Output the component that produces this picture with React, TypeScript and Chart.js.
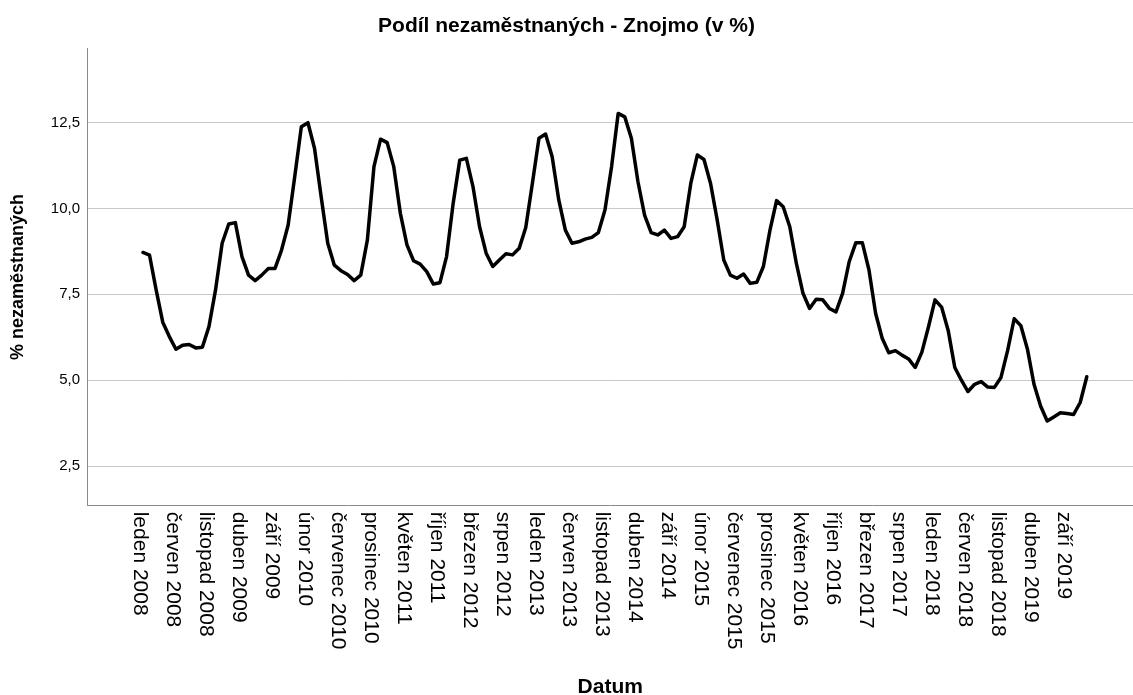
import React, { useEffect, useRef } from "react";
import { Chart, registerables } from "chart.js";

Chart.register(...registerables);

const FONT = '"Liberation Sans", Arial, Helvetica, sans-serif';

const chartTitle = "Podíl nezaměstnaných - Znojmo (v %)";
const xTitle = "Datum";
const yTitle = "% nezaměstnaných";

// Monthly share of unemployed, January 2008 - December 2019
const values2008 = [8.72, 8.64, 7.63, 6.69, 6.27, 5.9, 6.02, 6.04, 5.94, 5.96, 6.56, 7.63];
const values2009 = [8.99, 9.55, 9.59, 8.6, 8.06, 7.9, 8.06, 8.25, 8.25, 8.79, 9.52, 10.93];
const values2010 = [12.38, 12.5, 11.75, 10.34, 8.99, 8.35, 8.19, 8.08, 7.9, 8.06, 9.08, 11.22];
const values2011 = [12.02, 11.92, 11.22, 9.86, 8.94, 8.48, 8.38, 8.16, 7.8, 7.84, 8.6, 10.15];
const values2012 = [11.41, 11.46, 10.64, 9.47, 8.7, 8.31, 8.5, 8.68, 8.65, 8.84, 9.45, 10.73];
const values2013 = [12.05, 12.17, 11.51, 10.25, 9.37, 8.99, 9.03, 9.11, 9.16, 9.3, 9.96, 11.22];
const values2014 = [12.77, 12.67, 12.05, 10.78, 9.81, 9.3, 9.23, 9.37, 9.13, 9.18, 9.47, 10.73];
const values2015 = [11.56, 11.43, 10.73, 9.67, 8.5, 8.06, 7.97, 8.09, 7.82, 7.85, 8.31, 9.37];
const values2016 = [10.23, 10.05, 9.47, 8.4, 7.53, 7.09, 7.36, 7.34, 7.09, 6.99, 7.53, 8.45];
const values2017 = [9.0, 9.0, 8.21, 6.95, 6.22, 5.8, 5.86, 5.73, 5.62, 5.37, 5.81, 6.54];
const values2018 = [7.34, 7.13, 6.45, 5.37, 5.0, 4.67, 4.88, 4.96, 4.8, 4.79, 5.08, 5.86];
const values2019 = [6.79, 6.59, 5.91, 4.88, 4.25, 3.81, 3.93, 4.05, 4.03, 4.0, 4.35, 5.1];

const values = [
  ...values2008, ...values2009, ...values2010, ...values2011,
  ...values2012, ...values2013, ...values2014, ...values2015,
  ...values2016, ...values2017, ...values2018, ...values2019,
];

const tickLabels = [
  "leden 2008", "červen 2008", "listopad 2008", "duben 2009", "září 2009",
  "únor 2010", "červenec 2010", "prosinec 2010", "květen 2011", "říjen 2011",
  "březen 2012", "srpen 2012", "leden 2013", "červen 2013", "listopad 2013",
  "duben 2014", "září 2014", "únor 2015", "červenec 2015", "prosinec 2015",
  "květen 2016", "říjen 2016", "březen 2017", "srpen 2017", "leden 2018",
  "červen 2018", "listopad 2018", "duben 2019", "září 2019",
];
// month index (0 = leden 2008) of each tick label: every 5th month
const tickMonths = tickLabels.map((_, k) => k * 5);

const yTicks = [2.5, 5.0, 7.5, 10.0, 12.5];

export default function App() {
  const ref = useRef<HTMLCanvasElement>(null);

  useEffect(() => {
    const canvas = ref.current;
    if (!canvas) return;

    const rotatedTicks = {
      id: "rotatedTicks",
      afterDraw(chart: any) {
        const xs = chart.scales.x;
        const ctx = chart.ctx as CanvasRenderingContext2D;
        ctx.save();
        ctx.fillStyle = "#000";
        ctx.font = `21px ${FONT}`;
        ctx.textAlign = "left";
        ctx.textBaseline = "middle";
        tickMonths.forEach((m, k) => {
          const px = xs.getPixelForValue(m);
          ctx.save();
          ctx.translate(px - 3.5, xs.top + 6);
          ctx.rotate(Math.PI / 2);
          ctx.fillText(tickLabels[k], 0, 0);
          ctx.restore();
        });
        ctx.restore();
      },
    };

    const chart = new Chart(canvas, {
      type: "line",
      data: {
        datasets: [
          {
            data: values.map((v, i) => ({ x: i, y: v })),
            borderColor: "#000",
            borderWidth: 3.5,
            pointRadius: 0,
            tension: 0,
            borderJoinStyle: "round",
            borderCapStyle: "round",
            fill: false,
          },
        ],
      },
      options: {
        animation: false,
        responsive: false,
        devicePixelRatio: 1,
        layout: { padding: 0 },
        plugins: {
          legend: { display: false },
          tooltip: { enabled: false },
          title: {
            display: true,
            text: chartTitle,
            color: "#000",
            font: { family: FONT, size: 21, weight: "bold", lineHeight: 1.2 },
            padding: { top: 13.4, bottom: 9.7 },
          },
        },
        scales: {
          x: {
            type: "linear",
            min: -8.4,
            max: 150,
            grid: { display: false },
            border: { display: true, color: "#8a8a8a", width: 1 },
            ticks: { display: false },
            afterFit(s: any) {
              s.height = 189.3;
            },
            title: {
              display: true,
              text: xTitle,
              color: "#000",
              font: { family: FONT, size: 21, weight: "bold", lineHeight: 1.2 },
              padding: { top: 0, bottom: -5.3 },
            },
          },
          y: {
            type: "linear",
            min: 1.344,
            max: 14.667,
            afterBuildTicks(s: any) {
              s.ticks = yTicks.map((v) => ({ value: v }));
            },
            ticks: {
              color: "#000",
              font: { family: FONT, size: 15 },
              padding: 7.5,
              callback: (v: any) => Number(v).toFixed(1).replace(".", ","),
            },
            grid: { color: "#c8c8c8", drawTicks: false, lineWidth: 1 },
            border: { display: true, color: "#8a8a8a", width: 1 },
            afterFit(s: any) {
              s.width = 87.5;
            },
            title: {
              display: true,
              text: yTitle,
              color: "#000",
              font: { family: FONT, size: 18, weight: "bold", lineHeight: 1.2 },
              padding: { top: 7.7, bottom: 0 },
            },
          },
        },
      },
      plugins: [rotatedTicks],
    } as any);

    return () => chart.destroy();
  }, []);

  return (
    <div style={{ position: "fixed", left: 0, top: 0, width: 1133, height: 695, background: "#fff" }}>
      <canvas ref={ref} width={1133} height={695} style={{ display: "block" }} />
    </div>
  );
}
